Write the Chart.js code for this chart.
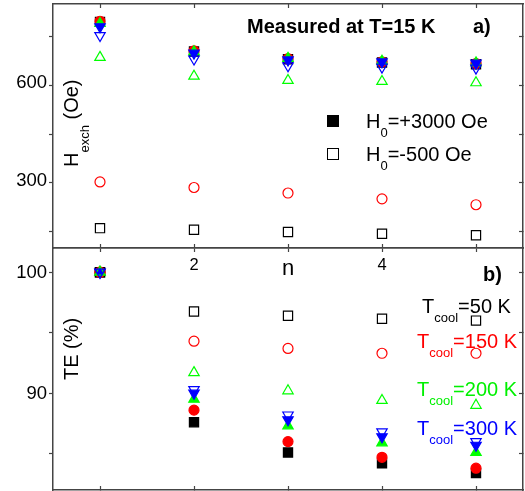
<!DOCTYPE html>
<html>
<head>
<meta charset="utf-8">
<script src="https://cdn.jsdelivr.net/npm/chart.js@4.4.0/dist/chart.umd.min.js"></script>
<style>
  body { margin: 0; background: #fff; }
  #wrap { position: relative; width: 525px; height: 491px; font-family: 'Liberation Sans', Arial, sans-serif; }
  canvas { position: absolute; left: 0; top: 0; }
  .txt { position: absolute; white-space: nowrap; line-height: 1; color: #000; font-size: 20px; }
  .txt sub { font-size: 13px; position: relative; top: 9px; vertical-align: baseline; line-height: 0; }
  .bold { font-weight: bold; }
  .rot { transform-origin: 0 0; transform: rotate(-90deg); }
  .rot sub { font-size: 13px; top: 11px; }
  .mk { position: absolute; width: 12px; height: 12px; box-sizing: border-box; }
</style>
</head>
<body>
<div id="wrap">
  <canvas id="graficoTE" width="525" height="491"></canvas>
  <canvas id="graficoH" width="525" height="491"></canvas>

  <div class="txt bold" style="left:247px; top:16px;">Measured at T=15 K</div>
  <div class="txt bold" style="left:473px; top:16px;">a)</div>
  <div class="txt bold" style="left:483px; top:264px;">b)</div>

  <div class="txt rot" style="left:61px; top:167px;">H<sub>exch</sub> (Oe)</div>
  <div class="txt rot" style="left:61px; top:380px;">TE (%)</div>

  <div class="mk" style="left:327px; top:115px; background:#000;"></div>
  <div class="txt" style="left:366px; top:111px;">H<sub>0</sub>=+3000 Oe</div>
  <div class="mk" style="left:327px; top:148px; border:1.3px solid #000;"></div>
  <div class="txt" style="left:366px; top:144px;">H<sub>0</sub>=-500 Oe</div>

  <div class="txt" style="left:422px; top:296px; color:#000;">T<sub>cool</sub>=50 K</div>
  <div class="txt" style="left:417px; top:331px; color:#ff0000;">T<sub>cool</sub>=150 K</div>
  <div class="txt" style="left:417px; top:379px; color:#00f000;">T<sub>cool</sub>=200 K</div>
  <div class="txt" style="left:417px; top:418px; color:#0000ff;">T<sub>cool</sub>=300 K</div>
</div>

<script>
// eixo x: número do ciclo n
const nVals = [1, 2, 3, 4, 5];
const xTickNames = ['', '2', 'n', '4', ''];

// painel a) H_exch (Oe)
const hTicks = [150, 300, 450, 600, 750];
const hLabeled = [300, 600];
const hFilled50  = [795, 704, 680, 670, 665];
const hFilled150 = [797, 706, 682, 672, 667];
const hFilled200 = [790, 703, 683, 674, 669];
const hFilled300 = [780, 699, 678, 672, 668];
const hOpen50  = [161, 156, 149, 144, 139];
const hOpen150 = [303, 286, 269, 251, 233];
const hOpen200 = [686, 628, 615, 612, 608];
const hOpen300 = [753, 681, 660, 656, 653];

// painel b) TE (%)
const teTicks = [85, 90, 95, 100];
const teLabeled = [90, 100];
const teFilled50  = [100, 87.6, 85.1, 84.2, 83.4];
const teFilled150 = [100, 88.6, 86.0, 84.7, 83.8];
const teFilled200 = [100, 89.5, 87.3, 85.9, 85.1];
const teFilled300 = [100, 90.0, 87.8, 86.4, 85.7];
const teOpen50  = [100, 96.75, 96.4, 96.15, 96.0];
const teOpen150 = [100, 94.3, 93.7, 93.3, 93.3];
const teOpen200 = [100, 91.7, 90.2, 89.4, 89.0];
const teOpen300 = [100, 90.3, 88.2, 86.8, 86.0];

const FONT = "'Liberation Sans', Arial, sans-serif";
const INK = '#444';
const BLACK = '#000000', RED = '#ff0000', GREEN = '#00ff00', BLUE = '#0000ff';

function serie(vals, color, shape, filled) {
  const tri = shape === 'triangle' || shape === 'down';
  return {
    data: nVals.map((n, i) => ({ x: n, y: vals[i] })),
    pointStyle: shape === 'down' ? 'triangle' : shape,
    pointRotation: shape === 'down' ? 180 : 0,
    pointRadius: shape === 'rect' ? 6.5 : (tri ? 6 : 5),
    pointBorderWidth: 1.2,
    pointBorderColor: color,
    pointBackgroundColor: filled ? color : 'rgba(0,0,0,0)',
    showLine: false
  };
}

// primeiro da lista fica por cima no Chart.js
function series(o50, o150, o200, o300, f50, f150, f200, f300) {
  return [
    serie(o300, BLUE, 'down', false),
    serie(o200, GREEN, 'triangle', false),
    serie(o150, RED, 'circle', false),
    serie(o50, BLACK, 'rect', false),
    serie(f300, BLUE, 'down', true),
    serie(f200, GREEN, 'triangle', true),
    serie(f150, RED, 'circle', true),
    serie(f50, BLACK, 'rect', true)
  ];
}

function eixo(pos, min, max, ticks, tickLen, size, extra) {
  const horiz = pos === 'top' || pos === 'bottom';
  return Object.assign({
    type: 'linear',
    position: pos,
    min: min,
    max: max,
    afterBuildTicks: s => { s.ticks = ticks.map(v => ({ value: v })); },
    afterFit: s => {
      if (horiz) s.height = size; else s.width = size;
      // sem folga extra para os rótulos: a área do gráfico fica fixa
      s.paddingTop = s.paddingBottom = s.paddingLeft = s.paddingRight = 0;
    },
    grid: { drawOnChartArea: false, tickLength: tickLen, tickColor: INK, tickWidth: 1.2 },
    border: { color: INK, width: 1.5 },
    ticks: { display: false }
  }, extra || {});
}

const xLabelTicks = {
  display: true,
  color: '#000',
  padding: 4,
  maxRotation: 0,
  autoSkip: false,
  font: ctx => ({ family: FONT, size: ctx.tick && ctx.tick.value === 3 ? 22 : 16.5 }),
  callback: v => xTickNames[nVals.indexOf(v)] || ''
};

function yLabelTicks(labeled, offset) {
  return {
    display: true,
    color: '#000',
    padding: 2,
    labelOffset: offset,
    font: { family: FONT, size: 18.5 },
    callback: v => labeled.includes(v) ? String(v) : ''
  };
}

const baseOpts = {
  responsive: false,
  devicePixelRatio: 1,
  animation: false,
  events: [],
  plugins: { legend: { display: false }, tooltip: { enabled: false } }
};

// painel a)
new Chart(document.querySelector('#graficoH'), {
  type: 'scatter',
  data: { datasets: series(hOpen50, hOpen150, hOpen200, hOpen300, hFilled50, hFilled150, hFilled200, hFilled300) },
  options: Object.assign({}, baseOpts, {
    layout: { autoPadding: false, padding: { left: 0, top: 4, right: 2, bottom: 0 } },
    scales: {
      x: eixo('bottom', 0.5, 5.5, nVals, 4, 243, { ticks: xLabelTicks }),
      x2: eixo('top', 0.5, 5.5, nVals, -4, 0),
      y: eixo('left', 100, 850, hTicks, 4, 53, { ticks: yLabelTicks(hLabeled, -2) }),
      y2: eixo('right', 100, 850, hTicks, -4, 0)
    }
  })
});

// painel b)
new Chart(document.querySelector('#graficoTE'), {
  type: 'scatter',
  data: { datasets: series(teOpen50, teOpen150, teOpen200, teOpen300, teFilled50, teFilled150, teFilled200, teFilled300) },
  options: Object.assign({}, baseOpts, {
    layout: { autoPadding: false, padding: { left: 0, top: 248, right: 2, bottom: 0 } },
    scales: {
      x: eixo('bottom', 0.5, 5.5, nVals, -4, 1),
      x2: eixo('top', 0.5, 5.5, nVals, 4, 0),
      y: eixo('left', 82, 102, teTicks, 4, 53, { ticks: yLabelTicks(teLabeled, 1) }),
      y2: eixo('right', 82, 102, teTicks, -4, 0)
    }
  })
});
</script>
</body>
</html>
